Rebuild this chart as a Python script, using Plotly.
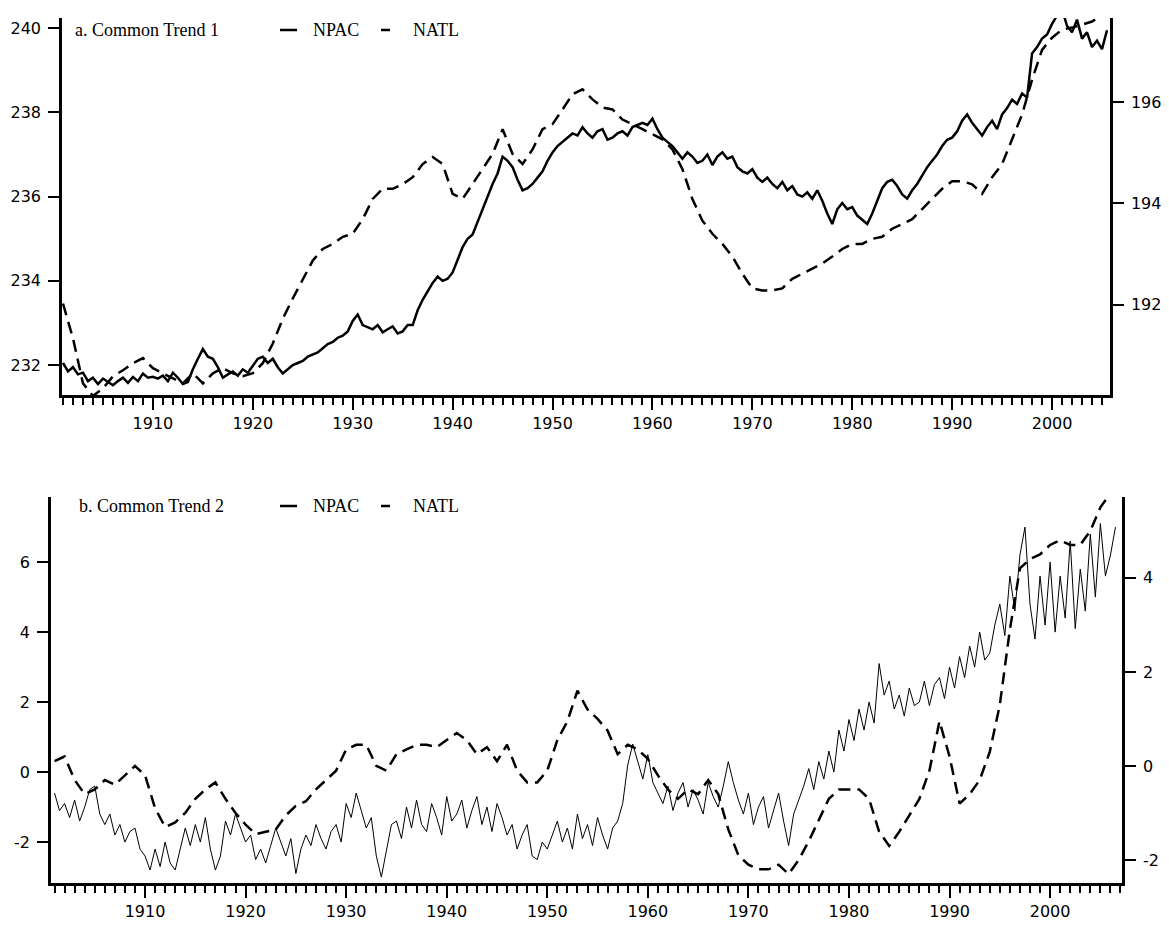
import plotly.graph_objects as go

# time axes
years_half = [1901 + 0.5 * i for i in range(210)]       # 1901.0 .. 2005.5
years_half_b = [1901 + 0.5 * i for i in range(212)]     # 1901.0 .. 2006.5
years = list(range(1901, 2007))                          # 1901 .. 2006

# a. Common Trend 1 -- NPAC (left axis), semi-annual
npac_a = [
    232.05, 231.85, 231.95, 231.78, 231.82, 231.62, 231.70, 231.55, 231.68, 231.60,
    231.52, 231.62, 231.70, 231.58, 231.72, 231.62, 231.80, 231.70, 231.72, 231.68,
    231.75, 231.62, 231.82, 231.70, 231.55, 231.60, 231.90, 232.15, 232.38, 232.20,
    232.15, 231.95, 231.70, 231.78, 231.85, 231.75, 231.90, 231.82, 232.00, 232.15,
    232.20, 232.05, 232.15, 231.95, 231.80, 231.90, 232.00, 232.05, 232.10, 232.20,
    232.25, 232.30, 232.40, 232.50, 232.55, 232.65, 232.70, 232.80, 233.05, 233.20,
    232.95, 232.90, 232.85, 232.95, 232.78, 232.85, 232.92, 232.75, 232.80, 232.95,
    232.95, 233.30, 233.55, 233.75, 233.95, 234.10, 234.00, 234.05, 234.20, 234.50,
    234.80, 235.00, 235.10, 235.40, 235.70, 236.00, 236.30, 236.55, 236.95, 236.85,
    236.70, 236.40, 236.15, 236.20, 236.30, 236.45, 236.60, 236.85, 237.05, 237.20,
    237.30, 237.40, 237.50, 237.45, 237.65, 237.50, 237.40, 237.55, 237.60, 237.35,
    237.40, 237.50, 237.55, 237.45, 237.65, 237.70, 237.75, 237.70, 237.85, 237.60,
    237.40, 237.30, 237.20, 237.05, 236.90, 237.05, 236.95, 236.80, 236.85, 237.00,
    236.75, 236.95, 237.05, 236.90, 236.95, 236.70, 236.60, 236.55, 236.65, 236.45,
    236.35, 236.45, 236.30, 236.20, 236.35, 236.15, 236.25, 236.05, 236.00, 236.10,
    235.95, 236.15, 235.90, 235.60, 235.35, 235.70, 235.85, 235.70, 235.75, 235.55,
    235.45, 235.35, 235.60, 235.90, 236.20, 236.35, 236.40, 236.25, 236.05, 235.95,
    236.15, 236.30, 236.50, 236.70, 236.85, 237.00, 237.20, 237.35, 237.40, 237.55,
    237.80, 237.95, 237.75, 237.60, 237.45, 237.65, 237.80, 237.60, 237.95, 238.10,
    238.30, 238.20, 238.45, 238.35, 239.40, 239.55, 239.75, 239.85, 240.10, 240.30,
    240.45, 240.05, 239.90, 240.20, 239.75, 239.90, 239.55, 239.70, 239.50, 239.95,
]

# a. Common Trend 1 -- NATL (right axis), annual
natl_a = [
    192.02, 191.33, 190.44, 190.19, 190.34, 190.58, 190.70, 190.84, 190.94, 190.74,
    190.64, 190.54, 190.44, 190.64, 190.44, 190.64, 190.74, 190.64, 190.58, 190.64,
    190.84, 191.23, 191.72, 192.12, 192.51, 192.87, 193.10, 193.20, 193.34, 193.40,
    193.69, 194.09, 194.29, 194.29, 194.38, 194.52, 194.78, 194.92, 194.78, 194.19,
    194.09, 194.38, 194.68, 194.98, 195.47, 194.98, 194.78, 195.07, 195.47, 195.57,
    195.86, 196.16, 196.26, 196.06, 195.90, 195.86, 195.66, 195.57, 195.47, 195.37,
    195.27, 195.07, 194.68, 194.09, 193.66, 193.40, 193.20, 192.95, 192.61, 192.32,
    192.28, 192.28, 192.32, 192.51, 192.61, 192.71, 192.81, 192.95, 193.10, 193.20,
    193.20, 193.30, 193.34, 193.50, 193.60, 193.69, 193.89, 194.09, 194.29, 194.44,
    194.44, 194.38, 194.19, 194.52, 194.78, 195.27, 195.76, 196.45, 197.04, 197.28,
    197.44, 197.48, 197.54, 197.60, 197.73, 197.93,
]

# b. Common Trend 2 -- NPAC (left axis), semi-annual
npac_b = [
    -0.6, -1.1, -0.9, -1.3, -0.8, -1.4, -1.0, -0.5, -0.4, -1.2,
    -1.5, -1.2, -1.8, -1.5, -2.0, -1.7, -1.6, -2.2, -2.4, -2.8,
    -2.2, -2.7, -2.0, -2.6, -2.8, -2.2, -1.6, -2.1, -1.5, -2.0,
    -1.3, -2.2, -2.8, -2.4, -1.4, -1.8, -1.2, -1.6, -2.0, -1.8,
    -2.5, -2.2, -2.6, -2.1, -1.6, -2.0, -2.4, -1.9, -2.9, -2.2,
    -1.8, -2.1, -1.5, -1.9, -2.2, -1.7, -1.5, -2.0, -0.9, -1.3,
    -0.6, -1.1, -1.6, -1.3, -2.4, -3.0, -2.2, -1.5, -1.4, -1.9,
    -1.0, -1.6, -0.8, -1.5, -1.7, -0.9, -1.3, -1.8, -0.7, -1.4,
    -1.2, -0.8, -1.6, -1.1, -0.7, -1.5, -1.0, -1.7, -0.9, -1.3,
    -1.8, -1.5, -2.2, -1.8, -1.5, -2.4, -2.5, -2.0, -2.2, -1.8,
    -1.4, -2.0, -1.6, -2.2, -1.2, -1.9, -1.5, -2.1, -1.3, -1.8,
    -2.2, -1.6, -1.4, -0.9, 0.2, 0.8, 0.3, -0.2, 0.5, -0.3,
    -0.6, -0.9, -0.4, -1.1, -0.6, -0.3, -1.0, -0.5, -0.8, -1.2,
    -0.3, -0.7, -1.0, -0.4, 0.3, -0.3, -0.8, -1.2, -0.6, -1.5,
    -1.0, -0.7, -1.6, -1.1, -0.6, -1.4, -2.1, -1.2, -0.8, -0.4,
    0.1, -0.5, 0.3, -0.2, 0.6, 0.0, 1.2, 0.6, 1.5, 0.9,
    1.8, 1.2, 2.0, 1.4, 3.1, 2.2, 2.6, 1.8, 2.2, 1.6,
    2.4, 1.9, 2.0, 2.6, 1.9, 2.5, 2.7, 2.1, 3.0, 2.4,
    3.3, 2.7, 3.6, 3.0, 4.0, 3.2, 3.4, 4.2, 4.8, 3.9,
    5.6, 4.6, 6.2, 7.0, 4.8, 3.8, 5.6, 4.2, 6.0, 4.0,
    5.6, 4.4, 6.6, 4.1, 5.8, 4.6, 6.8, 5.0, 7.1, 5.6,
    6.2, 7.0,
]

# b. Common Trend 2 -- NATL (right axis), annual
natl_b = [
    0.1, 0.2, -0.3, -0.6, -0.5, -0.3, -0.4, -0.2, 0.0, -0.2,
    -0.9, -1.3, -1.2, -1.0, -0.7, -0.5, -0.35, -0.7, -1.0, -1.25,
    -1.45, -1.4, -1.35, -1.05, -0.85, -0.75, -0.5, -0.3, -0.1, 0.35,
    0.45, 0.45, 0.0, -0.1, 0.25, 0.35, 0.45, 0.45, 0.4, 0.55,
    0.7, 0.55, 0.25, 0.4, 0.1, 0.45, -0.1, -0.35, -0.35, -0.1,
    0.55, 0.95, 1.6, 1.2, 1.0, 0.75, 0.25, 0.45, 0.35, 0.15,
    -0.2, -0.5, -0.7, -0.5, -0.6, -0.3, -0.6, -1.35, -1.9, -2.1,
    -2.2, -2.2, -2.1, -2.3, -2.0, -1.6, -1.15, -0.7, -0.5, -0.5,
    -0.5, -0.7, -1.4, -1.7, -1.4, -1.05, -0.7, -0.1, 0.95, 0.2,
    -0.8, -0.6, -0.3, 0.3, 1.3, 2.9, 4.2, 4.4, 4.5, 4.7,
    4.8, 4.7, 4.7, 5.0, 5.5, 5.8,
]

# tick values (labels written with a plain hyphen as in the original)
ticks_a_left = [232, 234, 236, 238, 240]
ticks_a_right = [192, 194, 196]
ticks_b_left = [-2, 0, 2, 4, 6]
ticks_b_right = [-2, 0, 2, 4]

# the page body keeps its 8px margin, so the figure is drawn 16px smaller
OFF = 8
W, H = 1169 - 2 * OFF, 928 - 2 * OFF
tick_font = dict(family='DejaVu Sans', size=16, color='black')
serif = dict(family='Liberation Serif', size=18, color='black')

def px(x):
    return (x - OFF) / W

def py(y):
    return 1 - (y - OFF) / H

fig = go.Figure()

fig.add_trace(go.Scatter(x=years_half, y=npac_a, mode='lines', xaxis='x', yaxis='y',
                         line=dict(color='black', width=2.5)))
fig.add_trace(go.Scatter(x=years, y=natl_a, mode='lines', xaxis='x', yaxis='y2',
                         line=dict(color='black', width=2.5, dash='12px,7px')))
fig.add_trace(go.Scatter(x=years_half_b, y=npac_b, mode='lines', xaxis='x2', yaxis='y3',
                         line=dict(color='black', width=1)))
fig.add_trace(go.Scatter(x=years, y=natl_b, mode='lines', xaxis='x2', yaxis='y4',
                         line=dict(color='black', width=2.5, dash='12px,7px')))

def xaxis_style(domain, rng, anchor):
    return dict(domain=domain, range=rng, anchor=anchor,
                tickmode='linear', tick0=1910, dtick=10, tickformat='d',
                ticks='outside', ticklen=12, tickwidth=2, tickcolor='black',
                minor=dict(dtick=1, tick0=1901, ticks='outside', ticklen=7,
                           tickwidth=2, tickcolor='black'),
                showline=True, linecolor='black', linewidth=2.5,
                showgrid=False, zeroline=False, tickfont=tick_font)

def yaxis_style(domain, rng, vals, anchor, side='left', overlay=None):
    d = dict(range=rng, anchor=anchor, side=side, tickmode='array',
             tickvals=vals, ticktext=[str(v) for v in vals],
             ticks='outside', ticklen=11, tickwidth=2, tickcolor='black',
             ticklabelstandoff=4,
             showline=True, linecolor='black', linewidth=2.5,
             showgrid=False, zeroline=False, tickfont=tick_font)
    if overlay:
        d['overlaying'] = overlay
    else:
        d['domain'] = domain
    return d

dom_a = [py(395), py(18)]
dom_b = [py(883), py(497)]

fig.update_layout(
    width=W, height=H,
    margin=dict(l=0, r=0, t=0, b=0),
    paper_bgcolor='white', plot_bgcolor='white',
    showlegend=False,
    xaxis=xaxis_style([px(62), px(1110)], [1900.9, 2005.8], 'y'),
    xaxis2=xaxis_style([px(51), px(1122)], [1900.65, 2007.15], 'y3'),
    yaxis=yaxis_style(dom_a, [231.29, 240.24], ticks_a_left, 'x'),
    yaxis2=yaxis_style(None, [190.21, 197.67], ticks_a_right, 'x', 'right', 'y'),
    yaxis3=yaxis_style(dom_b, [-3.17, 7.86], ticks_b_left, 'x2'),
    yaxis4=yaxis_style(None, [-2.49, 5.72], ticks_b_right, 'x2', 'right', 'y3'),
)

# panel labels and hand-drawn legends
for title, tx, ty in [('a. Common Trend 1', 73, 30), ('b. Common Trend 2', 77, 506)]:
    fig.add_annotation(text=title, x=px(tx), y=py(ty), xref='paper', yref='paper',
                       xanchor='left', yanchor='middle', showarrow=False, font=serif)
    fig.add_annotation(text='NPAC', x=px(311), y=py(ty), xref='paper', yref='paper',
                       xanchor='left', yanchor='middle', showarrow=False, font=serif)
    fig.add_annotation(text='NATL', x=px(411), y=py(ty), xref='paper', yref='paper',
                       xanchor='left', yanchor='middle', showarrow=False, font=serif)
    fig.add_shape(type='line', xref='paper', yref='paper',
                  x0=px(280), x1=px(297), y0=py(ty), y1=py(ty),
                  line=dict(color='black', width=2.5))
    fig.add_shape(type='line', xref='paper', yref='paper',
                  x0=px(381), x1=px(390), y0=py(ty), y1=py(ty),
                  line=dict(color='black', width=2.5))

fig.write_html("out.html")
